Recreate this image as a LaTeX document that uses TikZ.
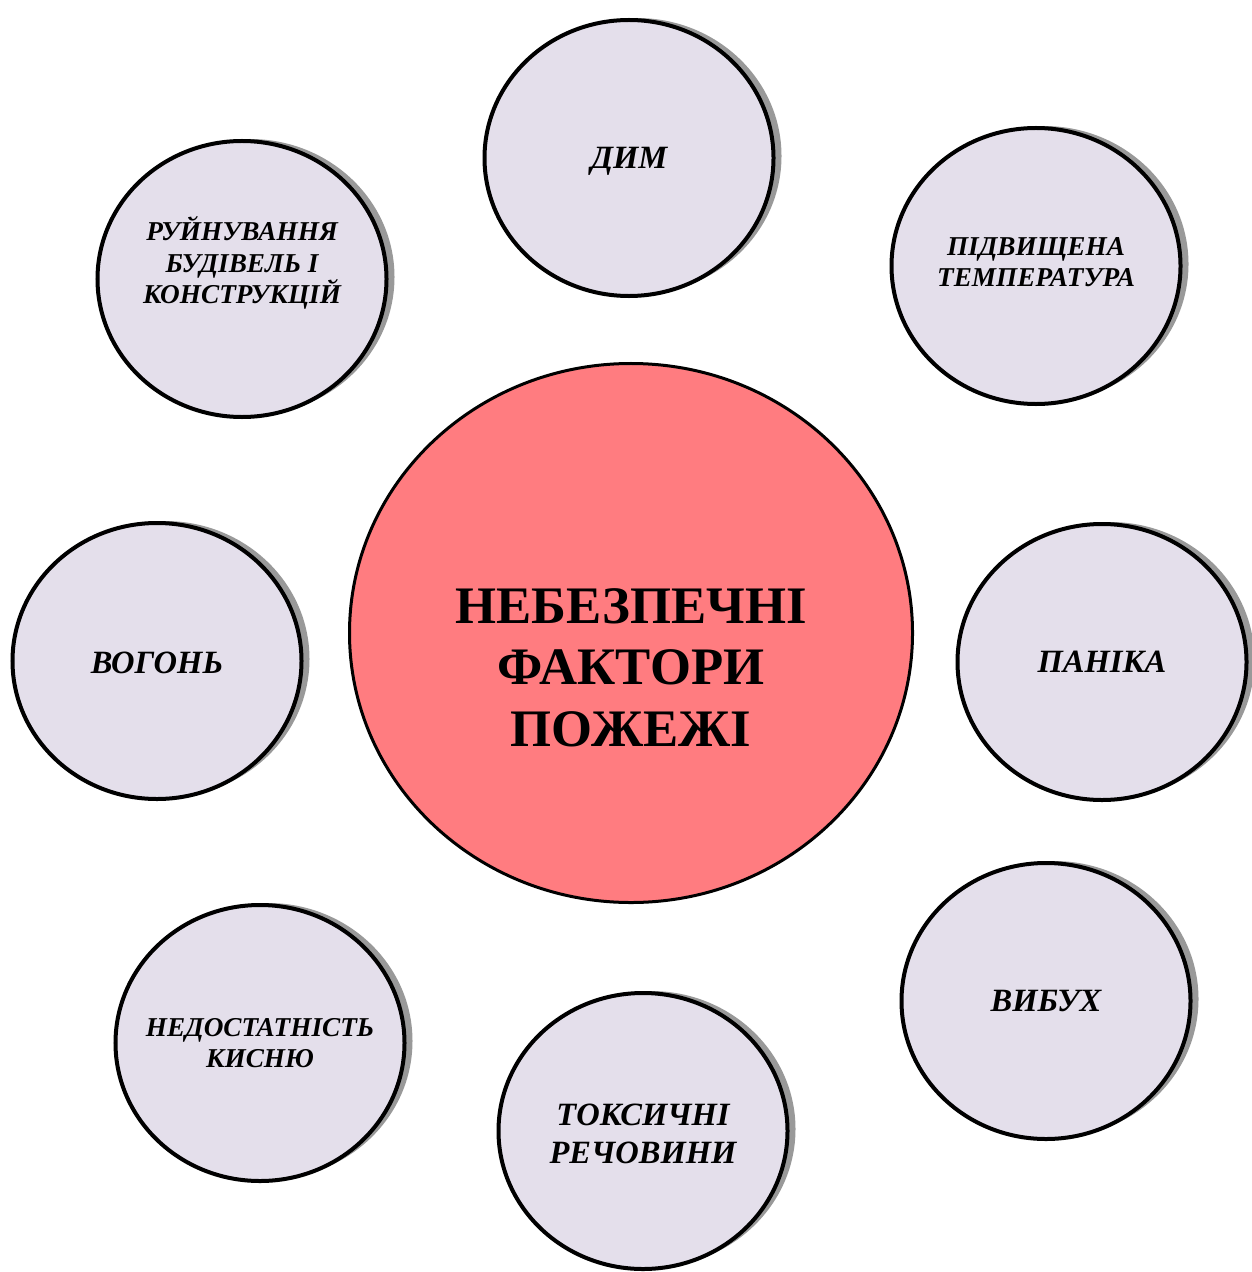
\documentclass[tikz,border=0pt]{standalone}
\usepackage{fontspec}
\setmainfont{Liberation Serif}
\usetikzlibrary{shapes.geometric,shadows}
\definecolor{factorfill}{HTML}{E4DFEB}
\definecolor{hazardfill}{HTML}{FF7C80}
\definecolor{shadowgray}{HTML}{999999}
\tikzset{
  factor/.style={ellipse,draw=black,line width=0.8mm,fill=factorfill,
    minimum width=57.8mm,minimum height=55.2mm,inner sep=0pt,
    drop shadow={shadow xshift=1.6mm,shadow yshift=0.4mm,fill=shadowgray,opacity=1}}, % outer factor
  hazard/.style={ellipse,draw=black,line width=0.6mm,fill=hazardfill,
    minimum width=112.6mm,minimum height=107.8mm,inner sep=0pt},  % centre
  ftext/.style={align=center,font=\fontsize{15.5}{18}\selectfont\bfseries\itshape},
  fbig/.style={align=center,font=\fontsize{18.5}{21.5}\selectfont\bfseries\itshape},
  htext/.style={align=center,font=\fontsize{30}{35}\selectfont\bfseries},
}

\begin{document}
\begin{tikzpicture}[x=0.2mm,y=-0.2mm]
  \useasboundingbox (0,0) rectangle (1251,1272);
  % centre
  \node[hazard] (haz) at (631,633) {};
  \node[htext] (haz-t) at ([yshift=-6.9mm]haz.center) {НЕБЕЗПЕЧНІ\\ФАКТОРИ\\ПОЖЕЖІ};
  % factors round it
  \node[factor] (dym) at (629,158) {};
  \node[fbig] (dym-t) at ([yshift=-0.6mm]dym.center) {ДИМ};
  \node[factor] (temp) at (1036,266) {};
  \node[ftext] (temp-t) at ([yshift=0.8mm]temp.center) {ПІДВИЩЕНА\\ТЕМПЕРАТУРА};
  \node[factor] (ruin) at (242,279) {};
  \node[ftext] (ruin-t) at ([yshift=3.2mm]ruin.center) {РУЙНУВАННЯ\\БУДІВЕЛЬ І\\КОНСТРУКЦІЙ};
  \node[factor] (vogon) at (157,661) {};
  \node[fbig] (vogon-t) at ([yshift=-0.3mm]vogon.center) {ВОГОНЬ};
  \node[factor] (panic) at (1102,662) {};
  \node[fbig] (panic-t) at (panic.center) {ПАНІКА};
  \node[factor] (oxy) at (260,1043) {};
  \node[ftext] (oxy-t) at (oxy.center) {НЕДОСТАТНІСТЬ\\КИСНЮ};
  \node[factor] (toxic) at (643,1131) {};
  \node[fbig] (toxic-t) at ([yshift=-0.5mm]toxic.center) {ТОКСИЧНІ\\РЕЧОВИНИ};
  \node[factor] (blast) at (1046,1001) {};
  \node[fbig] (blast-t) at (blast.center) {ВИБУХ};
\end{tikzpicture}
\end{document}
